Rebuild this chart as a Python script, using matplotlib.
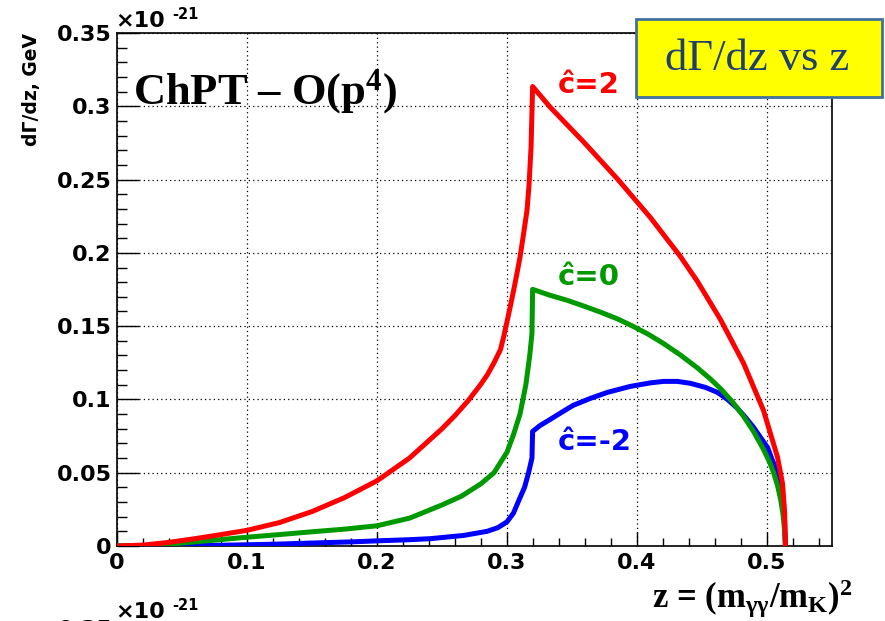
import matplotlib
matplotlib.use("Agg")
import matplotlib.pyplot as plt
from matplotlib.patches import Rectangle
from matplotlib.ticker import MultipleLocator, FixedLocator

plt.rcParams['mathtext.fontset'] = 'custom'
plt.rcParams['mathtext.rm'] = 'Liberation Serif:bold'
plt.rcParams['mathtext.it'] = 'Liberation Serif:bold'
plt.rcParams['mathtext.bf'] = 'Liberation Serif:bold'

# ---- data (values in units of 1e-21 GeV) ----
z_red = [0.000, 0.020, 0.040, 0.060, 0.080, 0.100, 0.125, 0.150, 0.175, 0.200,
         0.225, 0.250, 0.260, 0.270, 0.280, 0.285, 0.290, 0.295, 0.2975, 0.300,
         0.3025, 0.305, 0.3075, 0.310, 0.3125, 0.3154, 0.317, 0.3185, 0.3197,
         0.3333, 0.3587, 0.3849, 0.4103, 0.4334, 0.4465, 0.4642, 0.4819, 0.4973,
         0.5081, 0.5119, 0.5135, 0.5142]
v_red = [0.0000, 0.0006, 0.0025, 0.0050, 0.0078, 0.0107, 0.0160, 0.0235, 0.0330, 0.0445,
         0.0600, 0.0800, 0.0890, 0.0990, 0.1105, 0.1170, 0.1250, 0.1340, 0.1430, 0.1530,
         0.1633, 0.1740, 0.1852, 0.1970, 0.2115, 0.2290, 0.2470, 0.2720, 0.3135,
         0.2993, 0.2759, 0.2505, 0.2241, 0.1975, 0.1805, 0.1545, 0.1248, 0.0925,
         0.0606, 0.0428, 0.0240, 0.0000]

z_green = [0.000, 0.030, 0.050, 0.075, 0.100, 0.125, 0.150, 0.175, 0.200, 0.225,
           0.250, 0.265, 0.280, 0.290, 0.300, 0.305, 0.310, 0.3145, 0.3175, 0.3192,
           0.3197, 0.3333, 0.3464, 0.3587, 0.3718, 0.3849, 0.3972, 0.4088, 0.4203,
           0.4334, 0.4465, 0.4565, 0.4642, 0.4734, 0.4819, 0.4896, 0.4973, 0.5019,
           0.5050, 0.5081, 0.5104, 0.5123, 0.5135, 0.5142]
v_green = [0.0000, 0.0005, 0.0020, 0.0040, 0.0060, 0.0078, 0.0097, 0.0115, 0.0138, 0.0190,
           0.0280, 0.0340, 0.0425, 0.0500, 0.0640, 0.0760, 0.0900, 0.1100, 0.1300, 0.1450,
           0.1751, 0.1710, 0.1676, 0.1638, 0.1596, 0.1550, 0.1498, 0.1444, 0.1382,
           0.1303, 0.1215, 0.1139, 0.1074, 0.0984, 0.0886, 0.0782, 0.0659, 0.0574,
           0.0503, 0.0413, 0.0321, 0.0216, 0.0108, 0.0000]

z_blue = [0.000, 0.040, 0.080, 0.120, 0.149, 0.180, 0.2025, 0.225, 0.241, 0.2666,
          0.2846, 0.293, 0.300, 0.305, 0.3102, 0.3135, 0.3166, 0.3192, 0.3197, 0.3256,
          0.3333, 0.3433, 0.3510, 0.3641, 0.3772, 0.3949, 0.4103, 0.4203, 0.4311,
          0.4411, 0.4527, 0.4619, 0.4696, 0.4773, 0.4834, 0.4896, 0.4950, 0.5004,
          0.5042, 0.5073, 0.5096, 0.5119, 0.5135, 0.5142]
v_blue = [0.0000, 0.0001, 0.0005, 0.0012, 0.0020, 0.0028, 0.0036, 0.0043, 0.0050, 0.0072,
          0.0100, 0.0125, 0.0165, 0.0225, 0.0334, 0.0400, 0.0500, 0.0600, 0.0782, 0.0823,
          0.0864, 0.0919, 0.0960, 0.1007, 0.1048, 0.1089, 0.1113, 0.1123, 0.1123,
          0.1110, 0.1082, 0.1048, 0.1000, 0.0939, 0.0878, 0.0810, 0.0741, 0.0673,
          0.0584, 0.0516, 0.0448, 0.0312, 0.0175, 0.0000]

x_ticks = [0, 0.1, 0.2, 0.3, 0.4, 0.5]
x_ticklabels = ["0", "0.1", "0.2", "0.3", "0.4", "0.5"]
y_ticks = [0, 0.05, 0.1, 0.15, 0.2, 0.25, 0.3, 0.35]
y_ticklabels = ["0", "0.05", "0.1", "0.15", "0.2", "0.25", "0.3", "0.35"]

curve_labels = ["\u0109=2", "\u0109=0", "\u0109=-2"]

W, H = 885, 621
fig = plt.figure(figsize=(W / 100, H / 100), dpi=100)

def fx(x):
    return x / W

def fy(y):
    return 1 - y / H

ax = fig.add_axes([fx(117), fy(546), (832 - 117) / W, (546 - 33) / H])
ax.set_xlim(0, 0.55)
ax.set_ylim(0, 0.35)

ax.plot(z_blue, v_blue, color='#0000ff', lw=3.6, solid_joinstyle='round', zorder=3)
ax.plot(z_green, v_green, color='#009a00', lw=3.6, solid_joinstyle='round', zorder=4)
ax.plot(z_red, v_red, color='#ff0000', lw=3.6, solid_joinstyle='round', zorder=5)

ax.xaxis.set_major_locator(FixedLocator(x_ticks))
ax.xaxis.set_minor_locator(MultipleLocator(0.02))
ax.yaxis.set_major_locator(FixedLocator(y_ticks))
ax.yaxis.set_minor_locator(MultipleLocator(0.01))
ax.set_xticklabels(x_ticklabels)
ax.set_yticklabels(y_ticklabels)
ax.tick_params(axis='x', which='major', direction='in', length=10, width=1, pad=5,
               labelsize=16, top=False)
ax.tick_params(axis='x', which='minor', direction='in', length=6, width=1, top=False)
ax.tick_params(axis='y', which='major', direction='in', length=16, width=1, pad=4,
               labelsize=16, right=False)
ax.tick_params(axis='y', which='minor', direction='in', length=7, width=1, right=False)
for lab in ax.get_xticklabels() + ax.get_yticklabels():
    lab.set_fontweight('bold')

ax.grid(True, which='major', color='black', linestyle=(0, (1, 2.5)), linewidth=0.9)
for s in ax.spines.values():
    s.set_linewidth(1.2)
    s.set_color('black')

# curve labels
ax.text(0.3387, 0.309, curve_labels[0], color='#ff0000', fontsize=21, fontweight='bold',
        ha='left', va='baseline', zorder=6)
ax.text(0.3387, 0.178, curve_labels[1], color='#009a00', fontsize=21, fontweight='bold',
        ha='left', va='baseline', zorder=6)
ax.text(0.3387, 0.0655, curve_labels[2], color='#0000ff', fontsize=21, fontweight='bold',
        ha='left', va='baseline', zorder=6)

# y label (ROOT style, aligned to top of axis)
fig.text(fx(31), fy(33), "d\u0393/dz, GeV", rotation=90, ha='center', va='top',
         fontsize=13.5, fontweight='bold')

# exponent above axis
fig.text(fx(115), fy(27), "\u00d710", fontsize=16, fontweight='bold', ha='left', va='baseline')
fig.text(fx(172), fy(19), "-21", fontsize=10.5, fontweight='bold', ha='left', va='baseline')

# title-like annotation
fig.text(fx(133), fy(104), "ChPT \u2013 O(p$^{4}$)", fontsize=32, fontweight='bold',
         family='Liberation Serif', ha='left', va='baseline')

# x label
fig.text(fx(853), fy(608), r"z = (m$_{\mathrm{\gamma\gamma}}$/m$_{\mathrm{K}}$)$^{\mathrm{2}}$",
         fontsize=25, fontweight='bold', family='Liberation Serif', ha='right', va='baseline')

# yellow box
box = Rectangle((fx(636), fy(97)), (882 - 636) / W, (97 - 19) / H, transform=fig.transFigure,
                facecolor='#ffff00', edgecolor='#41719c', linewidth=2, zorder=10)
fig.add_artist(box)
fig.text(fx(757), fy(59), "d\u0393/dz vs z", fontsize=32, family='Liberation Serif',
         color='#1f3f6e', ha='center', va='center', zorder=11)

# partially visible text of a lower panel
fig.text(fx(113), fy(630), "0.35", fontsize=16, fontweight='bold', ha='right', va='center')
fig.text(fx(115), fy(618), "\u00d710", fontsize=16, fontweight='bold', ha='left', va='baseline')
fig.text(fx(172), fy(610), "-21", fontsize=10.5, fontweight='bold', ha='left', va='baseline')

fig.savefig("out.png", dpi=100)
